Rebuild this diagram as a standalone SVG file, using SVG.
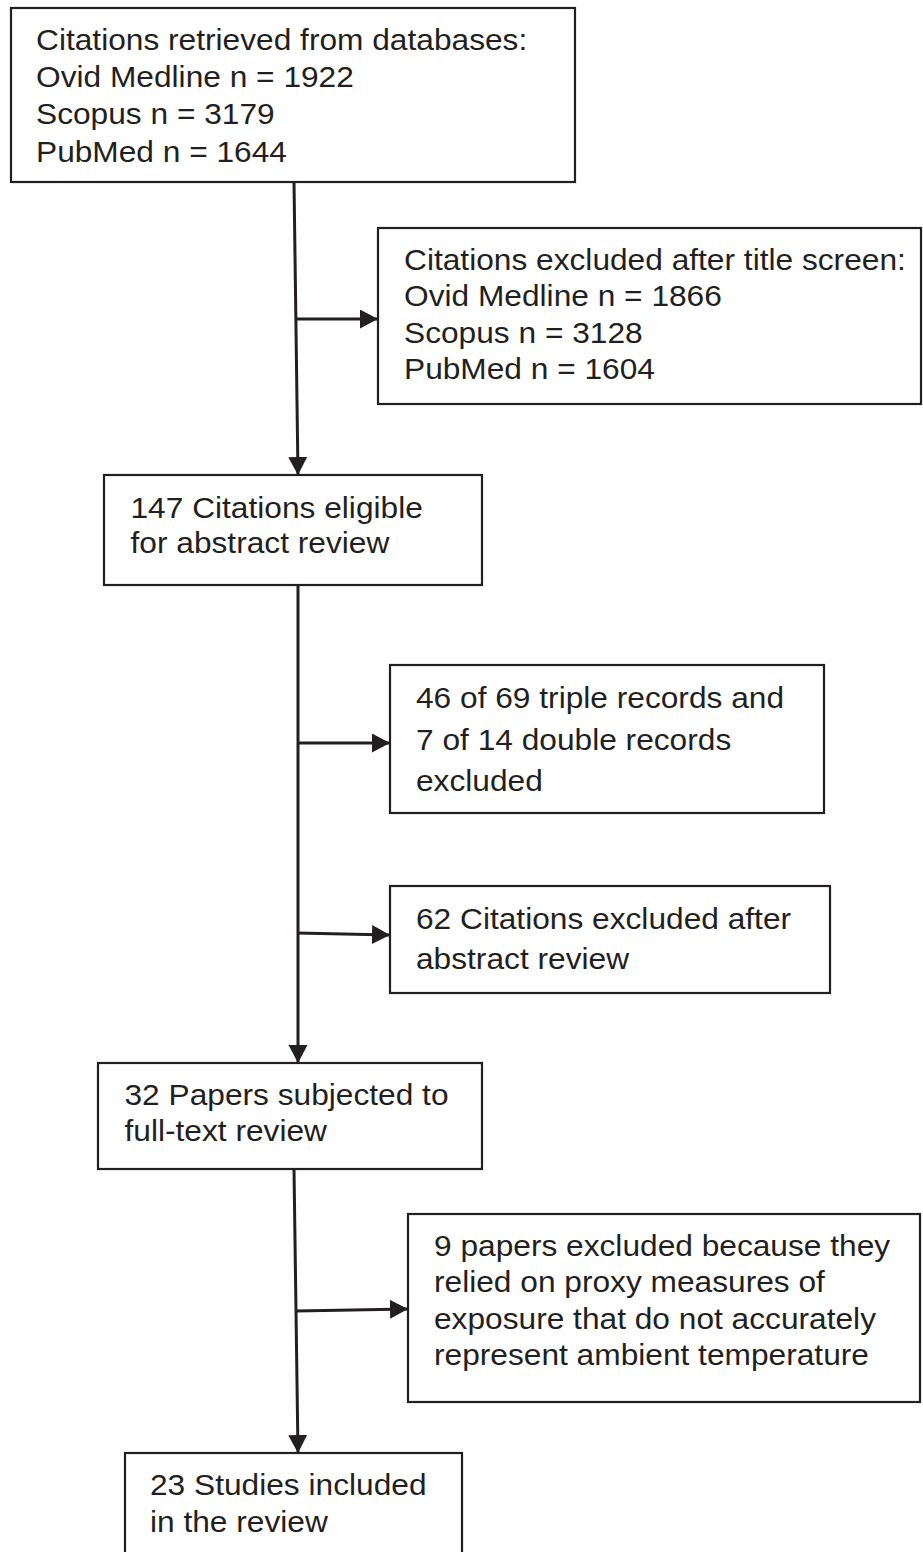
<svg xmlns="http://www.w3.org/2000/svg" width="923" height="1552" viewBox="0 0 923 1552">
<style>
.box{fill:#ffffff;stroke:#231f20;stroke-width:2.2}
.t{font-family:"Liberation Sans",Arial,Helvetica,sans-serif;font-size:29px;fill:#231f20}
.c{fill:none;stroke:#231f20;stroke-width:3}
</style>
<defs>
<marker id="ah" markerUnits="userSpaceOnUse" markerWidth="18" markerHeight="20" refX="18" refY="9.5" orient="auto">
<path d="M0,0 L18,9.5 L0,19 Z" fill="#231f20"/>
</marker>
</defs>
<rect width="923" height="1552" fill="#ffffff"/>
<g id="connectors">
<path class="c" d="M294,182 L298,475" marker-end="url(#ah)"/>
<path class="c" d="M296,319 L378,319" marker-end="url(#ah)"/>
<path class="c" d="M298,586 L298,1063" marker-end="url(#ah)"/>
<path class="c" d="M297,743 L390,743" marker-end="url(#ah)"/>
<path class="c" d="M297,933 L390,935" marker-end="url(#ah)"/>
<path class="c" d="M294,1169 L298,1453" marker-end="url(#ah)"/>
<path class="c" d="M296,1311 L408,1309" marker-end="url(#ah)"/>
</g>
<g id="n1">
<rect class="box" x="11" y="8" width="564" height="174"/>
<text class="t" transform="translate(36,50) scale(1.093,1)"><tspan x="0" y="0">Citations retrieved from databases:</tspan><tspan x="0" y="37.2">Ovid Medline n = 1922</tspan><tspan x="0" y="74.4">Scopus n = 3179</tspan><tspan x="0" y="111.6">PubMed n = 1644</tspan></text>
</g>
<g id="n2">
<rect class="box" x="378" y="228" width="543" height="176"/>
<text class="t" transform="translate(404,270) scale(1.093,1)"><tspan x="0" y="0">Citations excluded after title screen:</tspan><tspan x="0" y="36.5">Ovid Medline n = 1866</tspan><tspan x="0" y="73">Scopus n = 3128</tspan><tspan x="0" y="109.5">PubMed n = 1604</tspan></text>
</g>
<g id="n3">
<rect class="box" x="104" y="475" width="378" height="110"/>
<text class="t" transform="translate(130.5,517.5) scale(1.093,1)"><tspan x="0" y="0">147 Citations eligible</tspan><tspan x="0" y="36">for abstract review</tspan></text>
</g>
<g id="n4">
<rect class="box" x="390" y="665" width="434" height="148"/>
<text class="t" transform="translate(416,708) scale(1.093,1)"><tspan x="0" y="0">46 of 69 triple records and</tspan><tspan x="0" y="42">7 of 14 double records</tspan><tspan x="0" y="83">excluded</tspan></text>
</g>
<g id="n5">
<rect class="box" x="390" y="886" width="440" height="107"/>
<text class="t" transform="translate(416,929) scale(1.093,1)"><tspan x="0" y="0">62 Citations excluded after</tspan><tspan x="0" y="40">abstract review</tspan></text>
</g>
<g id="n6">
<rect class="box" x="98" y="1063" width="384" height="106"/>
<text class="t" transform="translate(124.5,1104.5) scale(1.093,1)"><tspan x="0" y="0">32 Papers subjected to</tspan><tspan x="0" y="37">full-text review</tspan></text>
</g>
<g id="n7">
<rect class="box" x="408" y="1214" width="512" height="188"/>
<text class="t" transform="translate(434,1256) scale(1.093,1)"><tspan x="0" y="0">9 papers excluded because they</tspan><tspan x="0" y="36.5">relied on proxy measures of</tspan><tspan x="0" y="73">exposure that do not accurately</tspan><tspan x="0" y="109.5">represent ambient temperature</tspan></text>
</g>
<g id="n8">
<rect class="box" x="125" y="1453" width="337" height="110"/>
<text class="t" transform="translate(150,1495) scale(1.093,1)"><tspan x="0" y="0">23 Studies included</tspan><tspan x="0" y="37">in the review</tspan></text>
</g>
</svg>
